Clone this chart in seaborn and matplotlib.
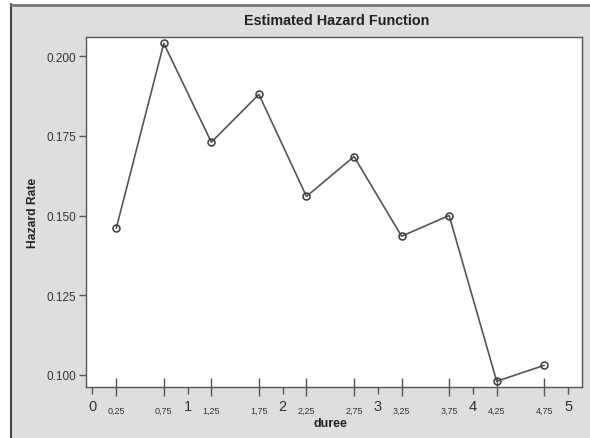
import matplotlib
matplotlib.use("Agg")
import matplotlib.pyplot as plt
import seaborn as sns
import pandas as pd
from matplotlib.lines import Line2D

duree = [0.25, 0.75, 1.25, 1.75, 2.25, 2.75, 3.25, 3.75, 4.25, 4.75]
hazard = [0.146, 0.204, 0.173, 0.188, 0.156, 0.1685, 0.1435, 0.150, 0.098, 0.103]
quarter_labels = ["0,25", "0,75", "1,25", "1,75", "2,25", "2,75", "3,25", "3,75", "4,25", "4,75"]
int_ticks = [0, 1, 2, 3, 4, 5]
y_ticks = [0.100, 0.125, 0.150, 0.175, 0.200]
y_labels = ["0.100", "0.125", "0.150", "0.175", "0.200"]

sns.set_theme(style="white")
plt.rcParams['font.family'] = ['Liberation Sans', 'DejaVu Sans']

fig = plt.figure(figsize=(5.90, 4.39), dpi=100)
fig.patch.set_facecolor("#dedede")
W, H = 590, 439
ax = fig.add_axes([86 / W, 1 - 388 / H, (582 - 86) / W, (388 - 38) / H])
ax.set_facecolor("white")

df = pd.DataFrame({"duree": duree, "hazard": hazard})
sns.lineplot(data=df, x="duree", y="hazard", ax=ax, color="#555555", linewidth=1.2,
             marker="o", markersize=5, markerfacecolor="none", markeredgecolor="#3a3a3a",
             markeredgewidth=1.1)

ax.set_xlim(-0.068, 5.147)
ax.set_ylim(0.0962, 0.2060)

ax.set_xticks(int_ticks)
ax.set_xticklabels([str(t) for t in int_ticks], fontsize=10.5, color="#333333")
ax.set_xticks(duree, minor=True)
ax.set_xticklabels(quarter_labels, minor=True, fontsize=6.5, color="#333333")
ax.tick_params(axis="x", which="major", direction="out", length=5, width=1, color="#555555",
               pad=4, bottom=True)
ax.tick_params(axis="x", which="minor", direction="inout", length=13, width=1, color="#555555",
               pad=7, bottom=True)

ax.set_yticks(y_ticks)
ax.set_yticklabels(y_labels, fontsize=8.5, color="#333333")
ax.tick_params(axis="y", which="major", direction="out", length=5, width=1, color="#555555",
               pad=2, left=True)

for s in ax.spines.values():
    s.set_color("#555555")
    s.set_linewidth(1.0)

ax.set_xlabel("")
ax.set_ylabel("")
fig.text(337 / W, 1 - 21 / H, "Estimated Hazard Function", ha="center", va="center",
         fontsize=10.4, fontweight="bold", color="#222222")
fig.text(33 / W, 1 - 213 / H, "Hazard Rate", ha="center", va="center", rotation=90,
         fontsize=8.7, fontweight="bold", color="#222222")
fig.text(330 / W, 1 - 424 / H, "duree", ha="center", va="center",
         fontsize=9, fontweight="bold", color="#222222")

# outer frame: white margin left/top with dark border lines
fig.patches.append(plt.Rectangle((0, 0), 10 / W, 1, transform=fig.transFigure,
                                 facecolor="white", edgecolor="none", zorder=-1))
fig.patches.append(plt.Rectangle((0, 1 - 5 / H), 1, 5 / H, transform=fig.transFigure,
                                 facecolor="white", edgecolor="none", zorder=-1))
fig.lines.append(Line2D([11 / W, 11 / W], [0, 1 - 5 / H], transform=fig.transFigure,
                        color="#444444", linewidth=1.5))
fig.lines.append(Line2D([11 / W, 1], [1 - 6 / H, 1 - 6 / H], transform=fig.transFigure,
                        color="#777777", linewidth=2))

fig.savefig("out.png", dpi=100, facecolor=fig.get_facecolor())
